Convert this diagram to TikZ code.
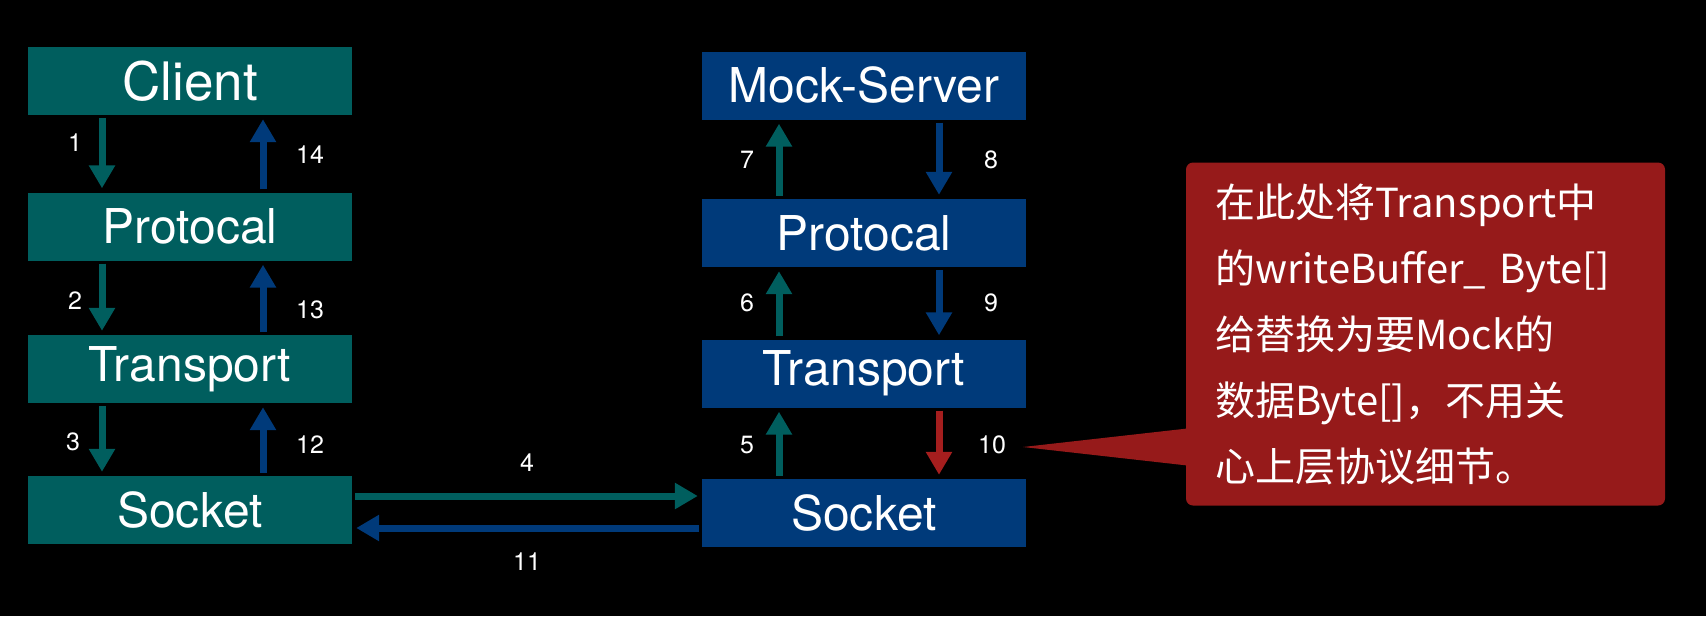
\documentclass[tikz,border=0pt]{standalone}
\usepackage{fontspec}
\setmainfont{TeX Gyre Heros}
\newfontfamily\cjk{Noto Sans CJK SC}
\usetikzlibrary{arrows.meta}
\definecolor{clientteal}{RGB}{0,94,94}
\definecolor{serverblue}{RGB}{0,58,122}
\definecolor{mockred}{RGB}{150,26,26}
\definecolor{arrowred}{RGB}{165,30,30}

\tikzset{
    layer/.style={minimum width=324pt, minimum height=68pt, inner sep=0pt, text=white, font=\fontsize{48}{52}\selectfont},
    cbox/.style={layer, fill=clientteal},
    sbox/.style={layer, fill=serverblue},
    flow/.style={line width=7pt, -{Triangle[length=23pt,width=25pt]}, shorten <=3pt, shorten >=4pt},
    num/.style={text=white, font=\fontsize{25}{28}\selectfont, inner sep=0pt},
}

\begin{document}
\begin{tikzpicture}[x=1pt, y=-1pt]
        \fill[black] (0,0) rectangle (1706,616);

        % client side
        \node[cbox, font=\fontsize{53}{56}\selectfont] (client) at (190,81) {Client};
        \node[cbox] (cprot)  at (190,226.5) {Protocal};
        \node[cbox] (ctrans) at (190,369)   {Transport};
        \node[cbox] (csock)  at (190,510)   {Socket};

        % server side
        \node[sbox] (server) at (864,85.5)  {Mock-Server};
        \node[sbox] (sprot)  at (864,233)   {Protocal};
        \node[sbox] (strans) at (864,373.5) {Transport};
        \node[sbox] (ssock)  at (864,513)   {Socket};

        % request down the client
        \draw[flow, clientteal] ([xshift=-88pt]client.south) -- ([xshift=-88pt]cprot.north);
        \draw[flow, clientteal] ([xshift=-88pt]cprot.south)  -- ([xshift=-88pt]ctrans.north);
        \draw[flow, clientteal] ([xshift=-88pt]ctrans.south) -- ([xshift=-88pt]csock.north);
        \draw[flow, clientteal, shorten >=4pt] ([yshift=14pt]csock.east) -- ([yshift=14pt]csock.east -| ssock.west);

        % request up the server
        \draw[flow, clientteal] ([xshift=-85pt]ssock.north)  -- ([xshift=-85pt]strans.south);
        \draw[flow, clientteal] ([xshift=-85pt]strans.north) -- ([xshift=-85pt]sprot.south);
        \draw[flow, clientteal] ([xshift=-85pt]sprot.north)  -- ([xshift=-85pt]server.south);

        % response down the server
        \draw[flow, serverblue] ([xshift=75pt]server.south) -- ([xshift=75pt]sprot.north);
        \draw[flow, serverblue] ([xshift=75pt]sprot.south)  -- ([xshift=75pt]strans.north);
        \draw[flow, arrowred]   ([xshift=75pt]strans.south) -- ([xshift=75pt]ssock.north);
        \draw[flow, serverblue] ([yshift=-18pt]csock.east -| ssock.west) -- ([yshift=-18pt]csock.east);

        % response up the client
        \draw[flow, serverblue] ([xshift=73pt]csock.north)  -- ([xshift=73pt]ctrans.south);
        \draw[flow, serverblue] ([xshift=73pt]ctrans.north) -- ([xshift=73pt]cprot.south);
        \draw[flow, serverblue] ([xshift=73pt]cprot.north)  -- ([xshift=73pt]client.south);

        % step numbers
        \node[num] (n1)  at (75,143)  {1};
        \node[num] (n2)  at (75,301)  {2};
        \node[num] (n3)  at (73,442)  {3};
        \node[num] (n4)  at (527,463) {4};
        \node[num] (n5)  at (747,445) {5};
        \node[num] (n6)  at (747,303) {6};
        \node[num] (n7)  at (747,160) {7};
        \node[num] (n8)  at (991,160) {8};
        \node[num] (n9)  at (991,303) {9};
        \node[num] (n10) at (992,445) {10};
        \node[num] (n11) at (527,562) {11};
        \node[num] (n12) at (310,445) {12};
        \node[num] (n13) at (310,310) {13};
        \node[num] (n14) at (310,155) {14};

        % note on the mocked buffer
        \node[fill=mockred, rounded corners=7pt, inner xsep=29pt, text width=421pt, minimum height=343pt,
              text=white, align=left, font=\cjk\fontsize{40}{66}\selectfont] (note) at (1425.5,334)
              {在此处将Transport中\\的writeBuffer\_ Byte[]\\给替换为要Mock的\\数据Byte[]，不用关\\心上层协议细节。};
        \coordinate (tip) at (1023,447);
        \fill[mockred] (tip) -- ([xshift=6pt,yshift=-94pt]note.west) -- ([xshift=6pt,yshift=-132pt]note.west) -- cycle;
    \end{tikzpicture}
\end{document}
